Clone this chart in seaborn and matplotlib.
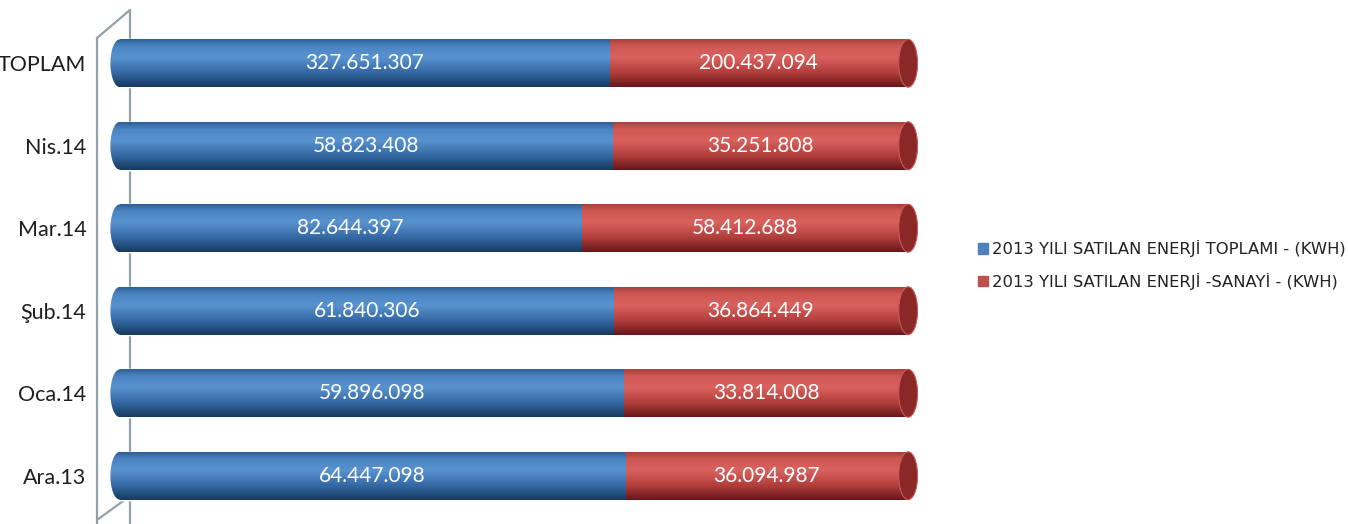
import numpy as np
import pandas as pd
import matplotlib.pyplot as plt
import seaborn as sns
from matplotlib.colors import LinearSegmentedColormap
from matplotlib.patches import Ellipse, Patch
from matplotlib.lines import Line2D

categories = ['TOPLAM', 'Nis.14', 'Mar.14', 'Şub.14', 'Oca.14', 'Ara.13']
toplam = [327651307, 58823408, 82644397, 61840306, 59896098, 64447098]
sanayi = [200437094, 35251808, 58412688, 36864449, 33814008, 36094987]
series_names = ['2013 YILI SATILAN ENERJİ TOPLAMI - (KWH)',
                '2013 YILI SATILAN ENERJİ -SANAYİ - (KWH)']

df = pd.DataFrame({'ay': categories, 'toplam': toplam, 'sanayi': sanayi})
df['pay_toplam'] = df['toplam'] / (df['toplam'] + df['sanayi'])
df['hepsi'] = 1.0

def fmt(v):
    return f"{v:,}".replace(',', '.')

sns.set_style('white')
plt.rcParams['font.family'] = ['Lato', 'DejaVu Sans']

W, H = 1348, 524
fig = plt.figure(figsize=(W / 100, H / 100), dpi=100)
ax = fig.add_axes([110 / W, 7 / H, 808 / W, 495 / H])
ax.set_facecolor('none')

bar_h = 0.58
sns.barplot(data=df, y='ay', x='hepsi', color='#c0504d', width=bar_h,
            orient='h', ax=ax, saturation=1)
sns.barplot(data=df, y='ay', x='pay_toplam', color='#4f81bd', width=bar_h,
            orient='h', ax=ax, saturation=1)

blue_cm = LinearSegmentedColormap.from_list('b', [
    (0.0, '#17395e'), (0.3, '#3468a3'), (0.62, '#5893d0'),
    (0.85, '#4b85c3'), (1.0, '#2f5f96')])
red_cm = LinearSegmentedColormap.from_list('r', [
    (0.0, '#65161a'), (0.3, '#b13e3b'), (0.62, '#da625e'),
    (0.85, '#d05854'), (1.0, '#a9403d')])
grad = np.linspace(0, 1, 256).reshape(-1, 1)

n = len(categories)
patches = list(ax.patches)
for i, p in enumerate(patches):
    cm = red_cm if i < n else blue_cm
    x0, y0 = p.get_x(), p.get_y()
    w, h = p.get_width(), p.get_height()
    im = ax.imshow(grad, cmap=cm, aspect='auto', origin='lower',
                   extent=(x0, x0 + w, y0 + h, y0), zorder=p.get_zorder() + 0.1)
    im.set_clip_path(p)
    if i < n:
        # right end cap of the cylinder
        cap = Ellipse((x0 + w, y0 + h / 2), 0.024, h, facecolor='#8a2827',
                      edgecolor='#c95a56', lw=0.8, zorder=5)
        ax.add_patch(cap)
    else:
        # rounded left end
        e = Ellipse((x0, y0 + h / 2), 0.024, h, facecolor='none',
                    edgecolor='none', zorder=4)
        ax.add_patch(e)
        im2 = ax.imshow(grad, cmap=cm, aspect='auto', origin='lower',
                        extent=(x0 - 0.012, x0 + 0.001, y0 + h, y0), zorder=4)
        im2.set_clip_path(e)

for i, row in df.iterrows():
    s = row['pay_toplam']
    ax.text(s / 2, i, fmt(row['toplam']), color='white', ha='center',
            va='center', fontsize=15, zorder=6)
    ax.text(s + (1 - s) / 2, i, fmt(row['sanayi']), color='white',
            ha='center', va='center', fontsize=15, zorder=6)

ax.set_xlim(-0.0125, 1.0125)
ax.set_ylim(n - 0.5, -0.5)
ax.set_xlabel('')
ax.set_ylabel('')
ax.set_xticks([])
ax.tick_params(axis='y', length=0, pad=17, labelsize=15.5, labelcolor='#1e1e1e')
sns.despine(ax=ax, left=True, bottom=True)

# 3D side wall
wall = '#93a2a8'
for xs, ys, z in [((130, 130), (10, 524), -1), ((97, 97), (38, 524), 3),
                  ((97, 130), (38, 10), 3), ((97, 130), (520, 496), -1)]:
    fig.add_artist(Line2D([x / W for x in xs], [1 - y / H for y in ys],
                          transform=fig.transFigure, color=wall, lw=1.6,
                          zorder=z))

handles = [Patch(color='#4f81bd'), Patch(color='#c0504d')]
fig.legend(handles, series_names, loc='center left',
           bbox_to_anchor=(963 / W, 1 - 265 / H), frameon=False,
           handlelength=0.6, handleheight=0.6, handletextpad=0.3,
           labelspacing=0.95, prop={'family': 'DejaVu Sans', 'size': 11.8},
           labelcolor='#222222')

fig.savefig('out.png', dpi=100)
